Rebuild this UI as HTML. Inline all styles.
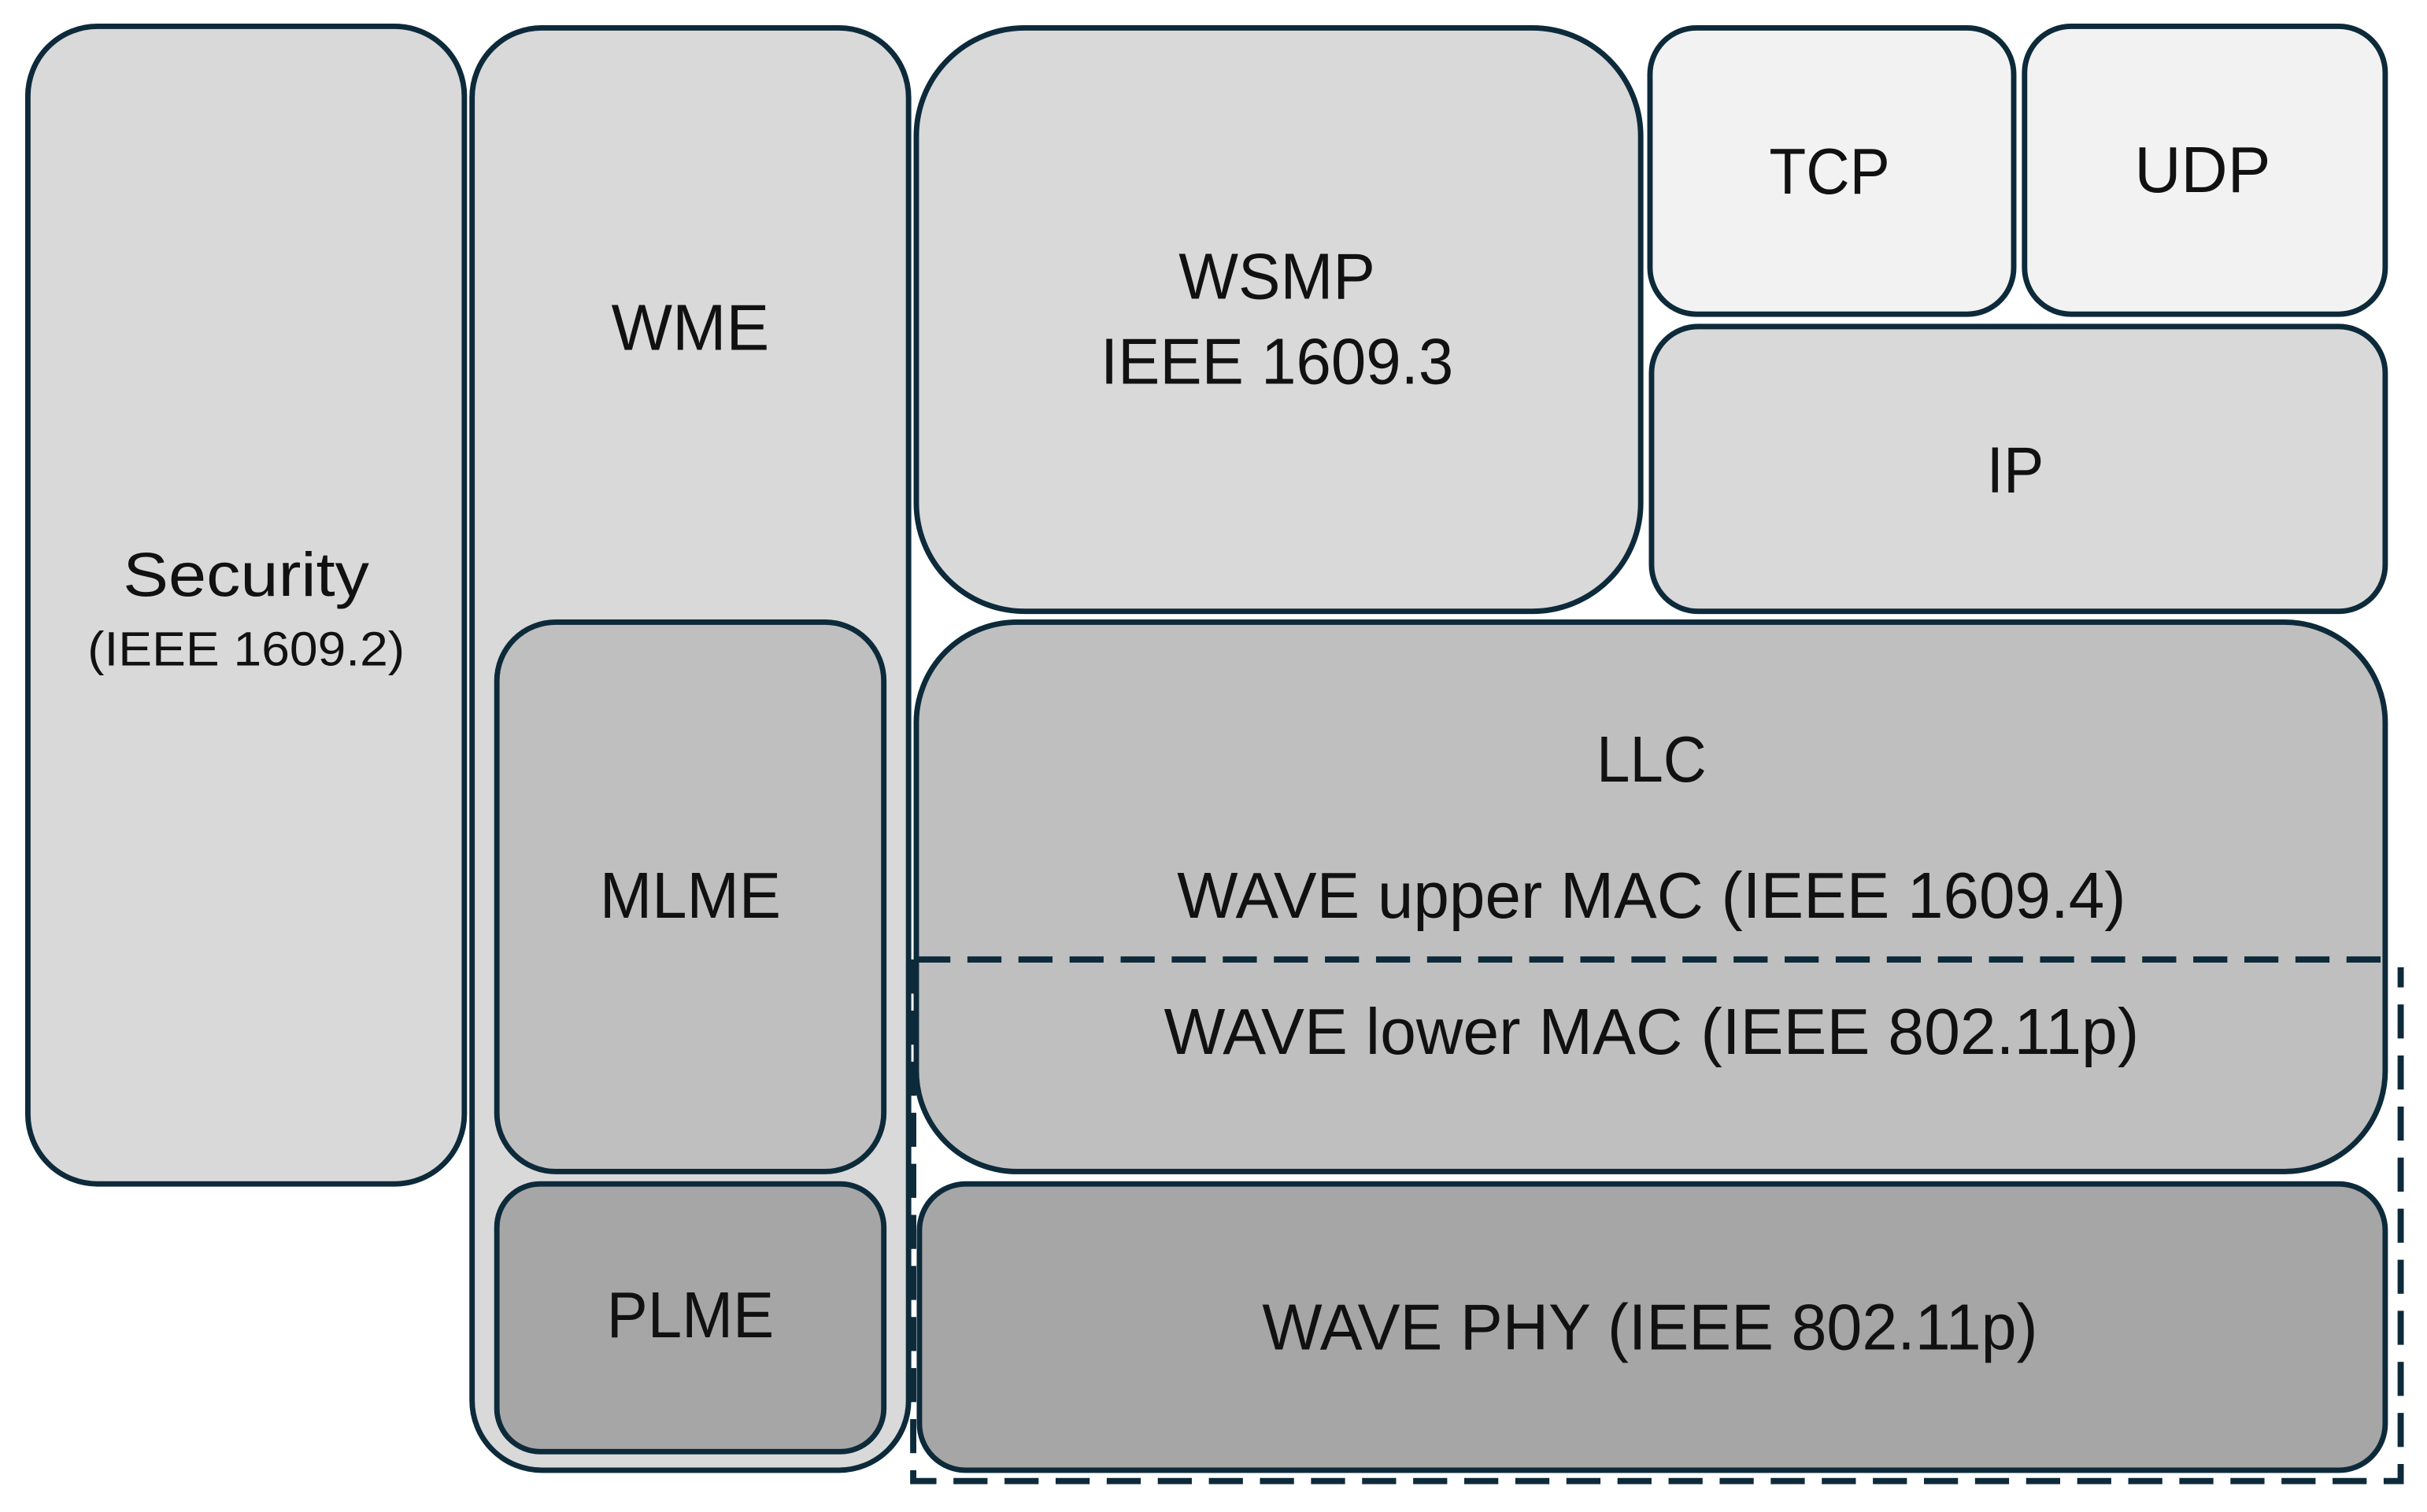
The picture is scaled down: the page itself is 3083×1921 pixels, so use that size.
<!DOCTYPE html>
<html><head><meta charset="utf-8"><style>html,body{margin:0;padding:0;background:#fff}svg{display:block}</style></head>
<body>
<svg width="3083" height="1921" viewBox="0 0 1568 977" preserveAspectRatio="none" xmlns="http://www.w3.org/2000/svg" font-family="Liberation Sans, sans-serif" fill="#000">
<g stroke="#0d2a3a" stroke-width="3.5">
<rect x="18" y="17" width="282" height="748" rx="45" fill="#d9d9d9"/>
<rect x="305" y="18" width="282" height="932" rx="45" fill="#d9d9d9"/>
<rect x="321" y="402" width="250" height="355" rx="38" fill="#bfbfbf"/>
<rect x="321" y="765" width="250" height="173" rx="28" fill="#a6a6a6"/>
<rect x="592" y="18" width="468" height="377" rx="70" fill="#d9d9d9"/>
<rect x="1066" y="18" width="235" height="185" rx="30" fill="#f2f2f2"/>
<rect x="1308" y="17" width="233" height="186" rx="30" fill="#f2f2f2"/>
<rect x="1067" y="211" width="474" height="184" rx="30" fill="#d9d9d9"/>
<rect x="592" y="402" width="949" height="355" rx="65" fill="#bfbfbf"/>
<rect x="594" y="765" width="947" height="185" rx="30" fill="#a6a6a6"/>
<line x1="592" y1="620" x2="1541" y2="620" stroke-width="4" stroke-dasharray="22,11"/>
<path d="M590 620 V957 H1551 V625" fill="none" stroke-width="4" stroke-dasharray="22,11"/>
</g>
<g text-anchor="middle" fill="#111">
<text x="159" y="385" font-size="40" textLength="159" lengthAdjust="spacingAndGlyphs">Security</text>
<text x="159" y="430" font-size="31" textLength="205" lengthAdjust="spacingAndGlyphs">(IEEE 1609.2)</text>
<text x="446" y="226" font-size="42" textLength="102" lengthAdjust="spacingAndGlyphs">WME</text>
<text x="446" y="593" font-size="42" textLength="117" lengthAdjust="spacingAndGlyphs">MLME</text>
<text x="446" y="864" font-size="42" textLength="108" lengthAdjust="spacingAndGlyphs">PLME</text>
<text x="825" y="193" font-size="42" textLength="127" lengthAdjust="spacingAndGlyphs">WSMP</text>
<text x="825" y="248" font-size="42" textLength="228" lengthAdjust="spacingAndGlyphs">IEEE 1609.3</text>
<text x="1182" y="125" font-size="42" textLength="78" lengthAdjust="spacingAndGlyphs">TCP</text>
<text x="1423" y="124" font-size="42" textLength="88" lengthAdjust="spacingAndGlyphs">UDP</text>
<text x="1302" y="318" font-size="42" textLength="37" lengthAdjust="spacingAndGlyphs">IP</text>
<text x="1067" y="505" font-size="42" textLength="71" lengthAdjust="spacingAndGlyphs">LLC</text>
<text x="1067" y="593" font-size="42" textLength="613" lengthAdjust="spacingAndGlyphs">WAVE upper MAC (IEEE 1609.4)</text>
<text x="1067" y="681" font-size="42" textLength="630" lengthAdjust="spacingAndGlyphs">WAVE lower MAC (IEEE 802.11p)</text>
<text x="1066" y="872" font-size="42" textLength="501" lengthAdjust="spacingAndGlyphs">WAVE PHY (IEEE 802.11p)</text>
</g>
</svg>
</body></html>
